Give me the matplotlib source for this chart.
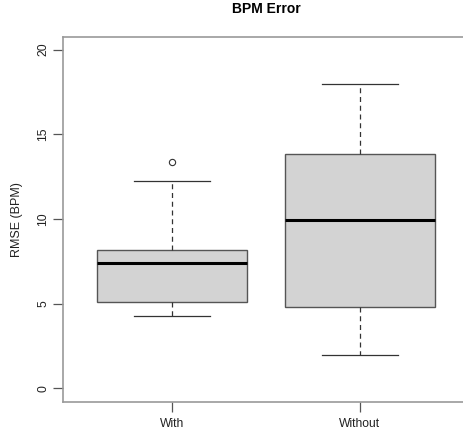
import matplotlib
matplotlib.use('Agg')
from matplotlib import pyplot as plt

plt.rcParams['font.family'] = ['Liberation Sans', 'DejaVu Sans']

# values
groups = ['With', 'Without']
whisker_low = [4.28, 1.98]
q1 = [5.11, 4.83]
median = [7.41, 9.93]
q3 = [8.18, 13.83]
whisker_high = [12.24, 17.99]
outliers = [[13.34], []]

stats = []
for i, name in enumerate(groups):
    stats.append({'label': name, 'whislo': whisker_low[i], 'q1': q1[i],
                  'med': median[i], 'q3': q3[i], 'whishi': whisker_high[i],
                  'fliers': outliers[i]})

fig = plt.figure(figsize=(4.64, 4.37), dpi=100)
# frame runs past the right edge of the picture, like the original crop
ax = fig.add_axes([63 / 464, 35.3 / 437, 406 / 464, 365 / 437])

edge = '#555555'
ax.bxp(stats, positions=[1, 2], widths=0.8, patch_artist=True,
       boxprops=dict(facecolor='#d3d3d3', edgecolor=edge, linewidth=1.0),
       medianprops=dict(color='black', linewidth=2.2),
       whiskerprops=dict(color='#333333', linestyle=(0, (4, 3)), linewidth=0.9),
       capprops=dict(color='#333333', linewidth=0.9),
       capwidths=0.4,
       flierprops=dict(marker='o', markersize=4.5, markerfacecolor='none',
                       markeredgecolor='#333333', markeredgewidth=0.8))

ax.set_xlim(0.42, 2.58)
ax.set_ylim(-0.78, 20.76)
ax.set_yticks([0, 5, 10, 15, 20])
ax.set_yticklabels(['0', '5', '10', '15', '20'], rotation=90, va='center')
ax.set_xticks([1, 2])
ax.set_xticklabels(groups)

for s in ax.spines.values():
    s.set_color('#999999')
    s.set_linewidth(1.2)
ax.tick_params(axis='both', length=7, width=0.9, color='#555555',
               labelsize=8.7, labelcolor='#222222', pad=5)
ax.tick_params(axis='y', pad=3)

ax.set_ylabel('RMSE (BPM)', fontsize=9, color='#222222', labelpad=10)
fig.text(266 / 464, 1 - 8.7 / 437, 'BPM Error', ha='center', va='center',
         fontsize=10, fontweight='bold')

fig.savefig('out.png', dpi=100)
